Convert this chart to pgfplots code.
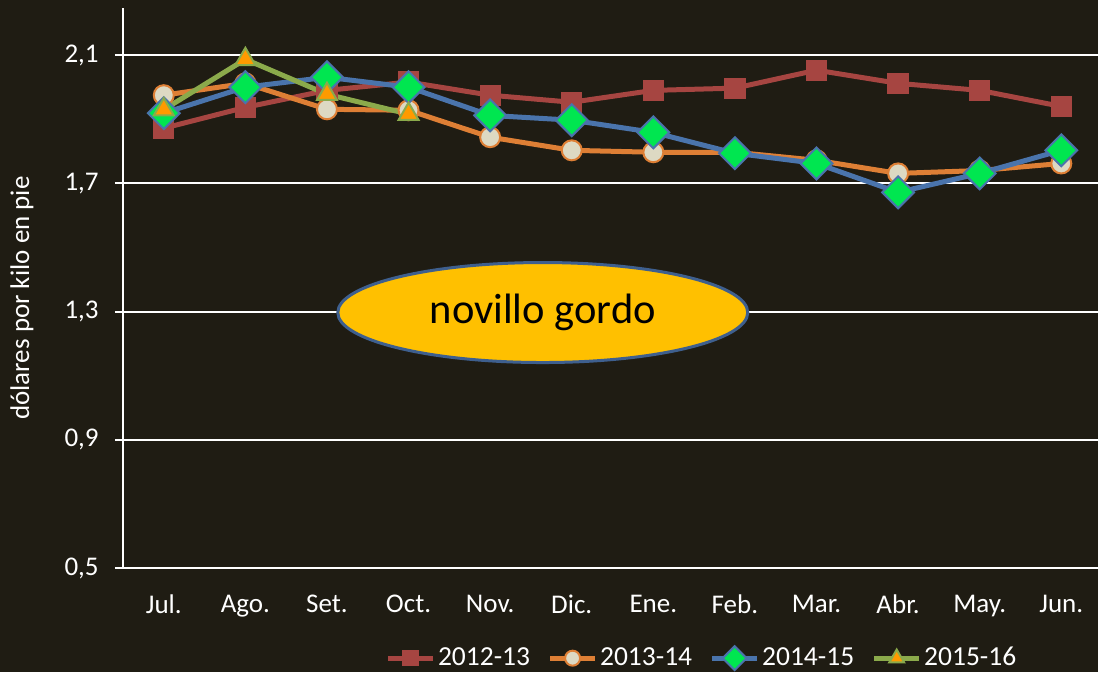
\documentclass[border=0pt]{standalone}
\usepackage{pgfplots}
\pgfplotsset{compat=1.18}
\usepackage{fontspec}
\setmainfont{Carlito}
\usetikzlibrary{shapes.geometric}
\definecolor{bg}{HTML}{1F1C13}
\definecolor{cred}{HTML}{A64541}
\definecolor{corange}{HTML}{DE7F35}
\definecolor{ccirc}{HTML}{DDD9C3}
\definecolor{cblue}{HTML}{4A74AC}
\definecolor{cdia}{HTML}{00E650}
\definecolor{cgreen}{HTML}{8BAA4B}
\definecolor{ctri}{HTML}{FF9A00}
\definecolor{cell}{HTML}{FFC000}
\definecolor{cellb}{HTML}{3E5F8E}
\begin{document}
\begin{tikzpicture}
\fill[bg] (0,0) rectangle (439.2pt,268.8pt);
\node[rotate=90,text=white,font=\fontsize{10.8}{13}\selectfont] at (8.8pt,149.6pt) {dólares por kilo en pie};
\begin{axis}[
  at={(49.2pt,41.6pt)}, anchor=south west,
  scale only axis, width=390pt, height=224pt,
  xmin=-0.5, xmax=11.45, ymin=0.5, ymax=2.247,
  axis x line*=bottom, axis y line*=left,
  axis line style={white, line width=0.8pt, -},
  xtick={0,...,11},
  xticklabels={Jul.,Ago.,Set.,Oct.,Nov.,Dic.,Ene.,Feb.,Mar.,Abr.,May.,Jun.},
  x tick style={draw=none},
  minor xtick={-0.5,0.5,...,10.5},
  minor x tick style={white, line width=0.8pt},
  minor tick length=3.2pt,
  ytick={0.5,0.9,1.3,1.7,2.1},
  y tick style={white, line width=0.8pt},
  major tick length=3.2pt,
  tick align=outside,
  ymajorgrids, major grid style={white, line width=0.8pt},
  /pgf/number format/.cd, use comma, fixed, fixed zerofill, precision=1, assume math mode=true,
  /pgfplots/.cd,
  ticklabel style={text=white, font=\fontsize{10.8}{13}\selectfont},
  xticklabel style={yshift=-4pt},
  yticklabel style={xshift=-3pt},
  legend columns=4,
  legend style={at={(0.594,-0.161)}, anchor=center, draw=none, fill=none,
    text=white, font=\fontsize{11}{13}\selectfont, inner sep=0pt,
    /tikz/every odd column/.append style={column sep=0pt},
    /tikz/every even column/.append style={column sep=6pt},
    nodes={inner sep=1pt}},
  legend image code/.code={\draw[mark repeat=2,mark phase=2,every mark/.append style={scale=0.75}] plot coordinates {(0pt,0pt)(9pt,0pt)(18pt,0pt)};},
]
\addplot[cred, line width=2pt, mark=square*, mark size=4pt, mark options={fill=cred, draw=cred, line width=0.5pt}]
 coordinates {(0,1.872)(1,1.937)(2,1.99)(3,2.016)(4,1.975)(5,1.953)(6,1.99)(7,1.997)(8,2.053)(9,2.012)(10,1.99)(11,1.94)};
\addlegendentry{2012-13}
\addplot[corange, line width=2pt, mark=*, mark size=4pt, mark options={fill=ccirc, draw=corange, line width=0.8pt}]
 coordinates {(0,1.975)(1,2.012)(2,1.931)(3,1.928)(4,1.844)(5,1.803)(6,1.797)(7,1.797)(8,1.772)(9,1.731)(10,1.74)(11,1.762)};
\addlegendentry{2013-14}
\addplot[cblue, line width=2pt, mark=square*, mark size=4.5pt, mark options={fill=cdia, draw=cblue, line width=0.8pt, rotate=45}]
 coordinates {(0,1.919)(1,2.0)(2,2.031)(3,2.0)(4,1.912)(5,1.897)(6,1.859)(7,1.794)(8,1.762)(9,1.672)(10,1.731)(11,1.803)};
\addlegendentry{2014-15}
\addplot[cgreen, line width=2pt, mark=triangle*, mark size=4.6pt, mark options={fill=ctri, draw=cgreen, line width=0.8pt}]
 coordinates {(0,1.93)(1,2.087)(2,1.978)(3,1.916)};
\addlegendentry{2015-16}
\node[ellipse, draw=cellb, line width=1.2pt, fill=cell, minimum width=164pt, minimum height=40pt, inner sep=0pt, font=\fontsize{17}{20}\selectfont, text=black] at (axis cs:4.645,1.297) {novillo gordo};
\end{axis}
\pgfresetboundingbox
\useasboundingbox (0,0) rectangle (439.2pt,268.8pt);
\end{tikzpicture}
\end{document}
